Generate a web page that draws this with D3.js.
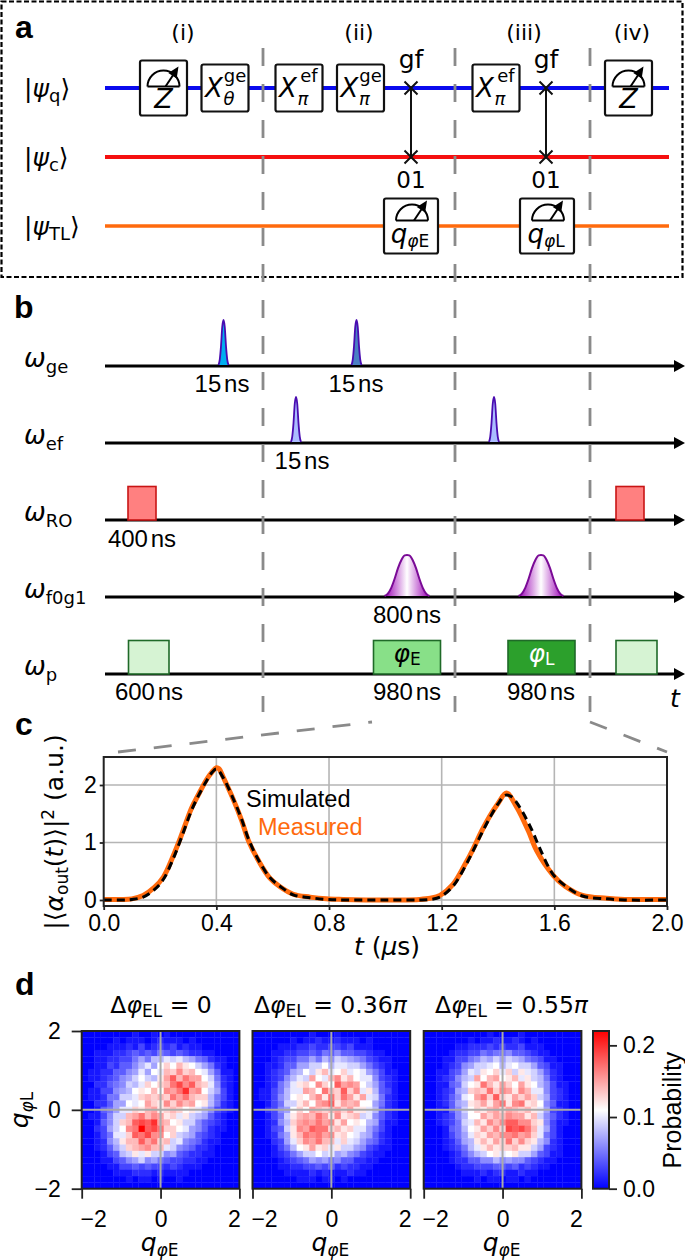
<!DOCTYPE html>
<html><head><meta charset="utf-8">
<script src="https://cdn.jsdelivr.net/npm/d3@7"></script>
<style>html,body{margin:0;padding:0;background:#fff}svg{display:block}</style>
</head><body><div id="c"></div>
<script>
// ---------- DATA ----------
const sectionLabels = ["(i)","(ii)","(iii)","(iv)"];
const sectionPos = [78,254,419,527];
const dividerPos = [158,350,485];
const wirePos = {q:0, c:69, tl:138};
const measureGates = [58.5,523.5];
const xGates = [
 {pos:120,sup:"ge",sub:"θ"},{pos:194,sup:"ef",sub:"π"},{pos:255.5,sup:"ge",sub:"π"},{pos:391,sup:"ef",sub:"π"}];
const swapPos = [306,441];
const homoGates = [{pos:306,sub:"E"},{pos:442,sub:"L"}];
const pulseAxes = ["ge","ef","RO","f0g1","p"];
const gePulses = [{pos:118.5,fill:"#00aef0"},{pos:251.5,fill:"#4a7fc4"}];
const efPulses = [{pos:191,fill:"#aabcff"},{pos:389,fill:"#aabcff"}];
const roPulses = [{start:23,end:51},{start:511,end:539}];
const f0g1Pulses = [302,436];
const probePulses = [
 {start:23.5,end:64,fill:"#d6f3d3"},{start:268.5,end:335.5,fill:"#88e088",label:"E",col:"#000"},
 {start:403,end:470,fill:"#2ca02c",label:"L",col:"#fff"},{start:511,end:552,fill:"#d6f3d3"}];
const narrowShape = [[-1,0],[-.75,.12],[-.5,.42],[-.25,.85],[0,1],[.25,.85],[.5,.42],[.75,.12],[1,0]];
const wideShape = [[-1,0],[-.85,.06],[-.7,.2],[-.55,.42],[-.4,.68],[-.25,.88],[-.1,.99],[0,1],[.1,.99],[.25,.88],[.4,.68],[.55,.42],[.7,.2],[.85,.06],[1,0]];
const durationLabels = [
 {t:"15 ns",pos:117,a:0},{t:"15 ns",pos:251,a:0},{t:"15 ns",pos:197,a:1},{t:"400 ns",pos:37,a:2},
 {t:"800 ns",pos:302,a:3},{t:"600 ns",pos:44,a:4},{t:"980 ns",pos:302,a:4},{t:"980 ns",pos:436,a:4}];

const tSim = [0,.06,.1,.14,.18,.212,.247,.277,.312,.336,.366,.385,.4,.425,.46,.49,.514,.549,.59,.626,.673,.733,.79,.85,1,1.12,1.16,1.194,1.24,1.283,1.312,1.342,1.372,1.4,1.425,1.447,1.475,1.52,1.55,1.596,1.638,1.7,1.785,1.85,2];
const vSim = [0,0,.01,.05,.18,.36,.72,1.1,1.56,1.81,2.08,2.22,2.28,2.12,1.76,1.4,1.06,.7,.39,.24,.09,.04,.01,0,0,0,.01,.05,.24,.58,.86,1.16,1.44,1.67,1.82,1.8,1.63,1.22,.88,.44,.25,.07,.02,0,0];
const tMeas = [0,.06,.1,.14,.18,.212,.247,.277,.312,.336,.366,.385,.4,.41,.425,.46,.49,.514,.549,.59,.626,.673,.733,.79,.85,1,1.12,1.16,1.194,1.24,1.283,1.312,1.342,1.372,1.4,1.43,1.466,1.508,1.537,1.596,1.638,1.7,1.785,1.85,2];
const vMeas = [.01,.01,.02,.08,.22,.4,.77,1.14,1.6,1.83,2.1,2.23,2.3,2.28,2.13,1.75,1.38,1.03,.69,.38,.23,.1,.05,.02,.01,0,.01,.03,.08,.27,.62,.89,1.2,1.47,1.68,1.86,1.62,1.2,.86,.43,.24,.08,.03,.01,.01];
const curveXTicks = [0,.4,.8,1.2,1.6,2];
const curveYTicks = [0,1,2];

const heatTicks = [-2,0,2];
const colorTicks = [0,.1,.2];
const titleValues = [["0",""],["0.36","π"],["0.55","π"]];
// probability in hundredths, rows from q_L = +2 down to -2
const heatA = [
[0,0,0,0,0,0,0,0,1,0,0,1,0,1,0,0,0,0,0,0,0,0,0,0,0],
[0,0,0,0,0,1,0,1,1,1,0,1,2,1,1,1,0,1,0,0,0,0,0,0,0],
[0,0,0,0,1,1,1,2,1,3,1,2,3,2,3,1,2,1,1,0,0,0,0,0,0],
[0,0,1,1,1,2,2,3,4,3,4,3,5,4,3,4,3,2,2,1,1,0,0,0,0],
[0,0,1,1,2,2,3,3,5,7,5,8,8,10,9,10,8,7,5,4,2,1,1,0,0],
[0,0,1,1,3,2,4,4,6,8,10,7,11,13,11,14,12,11,9,7,5,2,1,0,0],
[0,1,1,2,2,4,4,6,7,10,7,11,10,14,13,16,13,14,11,10,7,4,1,1,0],
[0,1,1,2,3,4,6,7,9,11,9,8,12,15,18,14,17,15,15,11,9,5,2,1,0],
[0,0,2,2,4,5,6,9,8,10,13,11,13,14,17,19,16,18,14,13,10,6,2,1,0],
[0,1,1,3,3,6,7,8,11,12,11,14,11,16,15,17,20,15,16,11,9,7,3,1,0],
[0,1,1,2,5,5,9,9,10,13,14,13,14,13,17,15,17,14,13,13,8,5,3,1,0],
[0,0,2,2,4,7,7,11,10,11,15,13,12,16,13,16,14,15,11,12,8,5,2,1,0],
[0,0,1,4,5,7,10,10,13,12,14,15,12,13,14,13,11,12,10,8,6,3,2,1,0],
[0,1,1,3,6,9,9,14,15,17,14,16,15,12,13,10,12,9,8,7,4,2,1,0,0],
[0,0,1,4,6,9,13,14,18,19,18,20,15,14,11,12,9,9,6,4,3,2,1,0,0],
[0,0,2,3,7,9,11,16,17,22,18,19,17,13,13,11,10,7,6,4,2,1,1,0,0],
[0,0,1,3,5,10,10,13,18,17,19,16,16,11,13,9,8,7,4,3,2,1,0,0,0],
[0,0,1,2,6,8,12,14,14,18,15,17,13,14,9,10,6,5,4,2,1,1,0,0,0],
[0,0,1,2,4,7,9,13,14,15,16,14,14,10,9,6,5,4,2,2,1,0,0,0,0],
[0,0,0,1,3,4,8,9,12,10,12,9,9,6,7,4,3,2,2,1,1,0,0,0,0],
[0,0,0,1,1,3,4,6,7,9,6,7,5,4,3,3,2,2,1,1,0,0,0,0,0],
[0,0,0,0,1,1,3,3,4,3,4,3,3,2,3,2,1,1,1,0,0,0,0,0,0],
[0,0,0,0,0,1,1,1,2,2,2,1,2,1,1,1,1,0,0,0,0,0,0,0,0],
[0,0,0,0,0,0,0,1,0,1,1,0,1,0,0,1,0,0,0,0,0,0,0,0,0],
[0,0,0,0,0,0,0,0,0,0,0,0,0,0,0,0,0,0,0,0,0,0,0,0,0]];
const heatB = [
[0,0,0,0,0,0,0,0,0,1,0,0,0,1,0,0,0,0,0,0,0,0,0,0,0],
[0,0,0,0,0,0,1,0,1,1,2,1,1,2,1,1,1,0,1,0,0,0,0,0,0],
[0,0,0,0,1,1,1,2,2,3,2,2,3,3,2,3,1,1,1,0,0,0,0,0,0],
[0,0,0,1,1,2,2,3,3,4,3,5,4,6,4,4,3,3,2,1,1,0,0,0,0],
[0,0,0,1,2,3,3,5,5,7,5,8,6,9,8,7,6,5,3,2,1,1,0,0,0],
[0,0,1,1,2,4,4,7,7,9,9,11,8,10,10,9,9,7,5,3,2,1,0,0,0],
[0,0,1,2,3,4,7,8,11,9,12,14,10,11,13,10,11,10,7,5,3,1,1,0,0],
[0,0,1,2,3,6,8,10,9,15,11,10,14,16,12,14,11,10,10,6,3,2,1,0,0],
[0,0,1,2,5,7,10,12,13,11,16,13,11,18,15,16,15,11,9,7,4,2,1,0,0],
[0,1,1,3,5,8,10,10,15,14,11,17,14,13,18,13,16,10,12,8,4,3,1,0,0],
[0,1,1,3,6,8,11,12,11,14,16,12,17,13,17,15,12,15,10,9,5,2,1,0,0],
[0,0,1,3,5,9,9,12,14,11,15,16,18,12,15,14,15,11,11,7,5,2,1,0,0],
[0,0,2,3,6,7,11,13,11,15,14,13,14,15,13,15,12,12,10,8,4,2,1,0,0],
[0,0,1,3,5,9,12,14,15,14,17,15,12,16,12,13,14,9,10,6,4,2,1,0,0],
[0,0,1,2,6,8,13,15,16,15,17,15,16,12,15,11,12,11,8,7,3,1,1,0,0],
[0,0,1,3,4,9,12,16,15,18,17,17,13,14,12,13,10,10,7,5,3,1,0,0,0],
[0,0,1,2,5,7,12,14,17,16,17,15,16,12,13,11,10,8,7,4,2,1,0,0,0],
[0,0,0,2,3,7,10,13,16,15,17,14,14,10,13,10,9,7,5,4,2,1,0,0,0],
[0,0,0,1,3,5,8,11,12,15,12,13,10,12,9,9,7,6,3,2,1,1,0,0,0],
[0,0,0,1,2,3,5,7,9,9,11,9,10,7,8,6,5,3,2,1,1,0,0,0,0],
[0,0,0,0,1,2,3,4,5,7,6,7,5,6,4,4,2,2,1,1,0,0,0,0,0],
[0,0,0,0,1,1,2,2,3,3,4,3,4,2,3,2,2,1,1,0,0,0,0,0,0],
[0,0,0,0,0,1,1,1,1,2,1,2,1,1,1,2,1,1,0,0,0,0,0,0,0],
[0,0,0,0,0,0,0,1,1,1,0,1,1,0,1,0,0,0,0,0,0,0,0,0,0],
[0,0,0,0,0,0,0,0,0,0,0,0,0,0,0,0,0,0,0,0,0,0,0,0,0]];
const heatC = [
[0,0,0,0,0,0,0,0,0,0,1,0,0,0,0,1,0,0,0,0,0,0,0,0,0],
[0,0,0,0,0,0,0,1,0,1,1,2,1,1,2,1,0,1,0,0,0,0,0,0,0],
[0,0,0,0,0,1,1,2,2,2,3,2,3,2,2,3,1,1,1,0,0,0,0,0,0],
[0,0,0,0,1,2,2,3,3,5,4,5,5,6,4,4,3,2,1,1,0,0,0,0,0],
[0,0,0,1,1,3,3,5,6,8,7,9,7,9,8,7,5,4,3,1,1,0,0,0,0],
[0,0,0,1,2,3,6,7,9,9,10,11,8,10,11,9,9,7,4,3,1,1,0,0,0],
[0,0,1,1,3,4,7,10,9,12,11,13,10,13,9,12,10,9,7,4,2,1,0,0,0],
[0,0,1,2,3,6,8,9,15,11,14,15,11,12,14,10,12,9,8,5,2,1,0,0,0],
[0,0,1,1,4,5,9,11,12,17,14,12,15,13,11,15,12,11,8,6,3,1,1,0,0],
[0,0,1,2,3,7,8,13,14,13,17,13,16,15,12,16,14,10,10,6,3,2,1,0,0],
[0,0,1,2,4,6,10,11,15,17,13,18,13,12,15,13,15,13,9,7,3,2,1,0,0],
[0,0,1,2,4,7,8,12,13,15,12,15,17,12,16,17,12,13,11,6,4,1,1,0,0],
[0,0,1,1,4,6,9,11,13,12,14,15,13,15,14,13,14,12,10,7,3,2,1,0,0],
[0,0,1,2,3,6,8,11,11,15,13,15,14,16,15,15,12,14,9,6,4,2,1,0,0],
[0,0,1,2,3,5,9,10,14,12,16,14,16,18,18,16,16,13,12,6,3,1,1,0,0],
[0,0,0,1,4,5,8,11,12,15,13,16,13,19,18,19,17,14,10,7,3,1,0,0,0],
[0,0,0,1,3,5,7,10,13,12,15,14,16,16,17,15,16,13,10,5,3,1,0,0,0],
[0,0,0,1,2,4,7,8,12,14,12,15,13,17,13,16,13,12,8,6,2,1,0,0,0],
[0,0,0,1,2,3,5,8,10,12,14,12,13,13,14,12,12,9,7,3,2,1,0,0,0],
[0,0,0,0,1,2,4,6,8,9,11,12,10,11,12,9,9,7,4,3,1,1,0,0,0],
[0,0,0,0,1,2,2,4,4,6,6,8,6,7,6,6,4,3,2,1,1,0,0,0,0],
[0,0,0,0,0,1,2,2,3,3,3,4,4,3,4,2,3,2,1,1,0,0,0,0,0],
[0,0,0,0,0,0,1,1,1,2,1,2,2,1,1,2,1,1,0,0,0,0,0,0,0],
[0,0,0,0,0,0,0,0,1,0,1,1,0,1,1,0,1,0,0,0,0,0,0,0,0],
[0,0,0,0,0,0,0,0,0,0,0,0,0,0,0,0,0,0,0,0,0,0,0,0,0]];

// ---------- HELPERS ----------
const W=685,H=1260;
const MATH="'DejaVu Sans',sans-serif", SANS="'Liberation Sans',Arial,sans-serif";
const svg=d3.select("#c").append("svg").attr("width",W).attr("height",H).attr("viewBox",`0 0 ${W} ${H}`);
const defs=svg.append("defs");
function mtext(g,x,y,parts,{anchor="start",size=22,family=MATH,fill="#000",rotate=null}={}){
  const t=g.append("text").attr("x",x).attr("y",y).attr("text-anchor",anchor)
    .attr("font-family",family).attr("font-size",size).attr("fill",fill);
  if(rotate!==null) t.attr("transform",`rotate(${rotate} ${x} ${y})`);
  let cur=0;
  parts.forEach(p=>{
    const [txt,o={}]=Array.isArray(p)?p:[p];
    const d=o.d||0;
    t.append("tspan").text(txt).attr("font-size",o.s||size)
      .attr("font-style",o.i?"italic":"normal").attr("dy",d-cur);
    cur=d;
  });
  return t;
}
function label(g,x,y,txt,{size=22,anchor="middle",fill="#000",weight="normal",family=SANS}={}){
  return g.append("text").attr("x",x).attr("y",y).attr("text-anchor",anchor).attr("font-family",family)
    .attr("font-size",size).attr("font-weight",weight).attr("fill",fill).text(txt);
}
[["a",15,38],["b",14,318],["c",15,735],["d",15,995]].forEach(([t,x,y])=>label(svg,x,y,t,{size:32,anchor:"start",weight:"bold"}));

// ---------- PANEL A ----------
const seqX=d3.scaleLinear().domain([0,564]).range([105,669]);
const wireY=d3.scaleLinear().domain([0,138]).range([88,226]);
const A=svg.append("g");
A.append("rect").attr("x",1.5).attr("y",1.5).attr("width",681).attr("height",275.5).attr("fill","none")
 .attr("stroke","#000").attr("stroke-width",2.2).attr("stroke-dasharray","5 2.5");
const GREY="#8a8a8a";
const dividers=svg.append("g");
sectionLabels.forEach((t,i)=>label(A,seqX(sectionPos[i]),40,t,{size:22,family:MATH}));
[["q","#0a0aee",wirePos.q],["c","#f50f0f",wirePos.c],["tl","#ff6a0d",wirePos.tl]].forEach(([k,c,v])=>{
  A.append("line").attr("x1",seqX(0)).attr("x2",seqX(564)).attr("y1",wireY(v)).attr("y2",wireY(v))
   .attr("stroke",c).attr("stroke-width",k==="tl"?3.5:4);
});
const ketY=[97,166,235];
const ketParts=[
 [["|"],["ψ",{i:1}],["q",{s:18,d:5}],["⟩"]],
 [["|"],["ψ",{i:1}],["c",{s:18,d:5}],["⟩"]],
 [["|"],["ψ",{i:1}],["TL",{s:18,d:5}],["⟩"]]];
ketParts.forEach((p,i)=>mtext(A,24,ketY[i],p,{size:25}));
function box(g,cx,cy,w,h){
  g.append("rect").attr("x",cx-w/2).attr("y",cy-h/2).attr("width",w).attr("height",h).attr("rx",2)
   .attr("fill","#fff").attr("stroke","#111").attr("stroke-width",2.2);
}
function gauge(g,cx,by,r){
  const arc=d3.arc()({innerRadius:r,outerRadius:r,startAngle:-Math.PI/2,endAngle:Math.PI/2});
  g.append("path").attr("d",arc).attr("transform",`translate(${cx},${by})`).attr("fill","none").attr("stroke","#000").attr("stroke-width",2);
  g.append("line").attr("x1",cx-r).attr("x2",cx+r).attr("y1",by).attr("y2",by).attr("stroke","#000").attr("stroke-width",2);
  const x1=cx+2,y1=by,x2=cx+r-1,y2=by-r-4;
  g.append("line").attr("x1",x1).attr("y1",y1).attr("x2",x2-3).attr("y2",y2+5).attr("stroke","#000").attr("stroke-width",2);
  const ang=Math.atan2(y2-y1,x2-x1), L=11, W2=5;
  const bx=x2-L*Math.cos(ang), by2=y2-L*Math.sin(ang);
  g.append("path").attr("d",d3.line()([[x2,y2],[bx-W2*Math.sin(ang),by2+W2*Math.cos(ang)],[bx+W2*Math.sin(ang),by2-W2*Math.cos(ang)]])+"Z").attr("fill","#000");
}
measureGates.forEach(p=>{
  const cx=seqX(p),cy=wireY(0);
  box(A,cx,cy,47,55); gauge(A,cx,cy-1.5,16);
  mtext(A,cx,cy+20,[["Z",{i:1}]],{anchor:"middle",size:27});
});
xGates.forEach(d=>{
  const cx=seqX(d.pos),cy=wireY(0);
  box(A,cx,cy,47,47);
  mtext(A,cx-20,cy+9,[["X",{i:1}]],{size:26});
  mtext(A,cx+10,cy-6,[[d.sup]],{anchor:"middle",size:18});
  mtext(A,cx+4,cy+17,[[d.sub,{i:1}]],{anchor:"middle",size:18});
});
swapPos.forEach(p=>{
  const cx=seqX(p),y1=wireY(wirePos.q),y2=wireY(wirePos.c);
  A.append("line").attr("x1",cx).attr("x2",cx).attr("y1",y1).attr("y2",y2).attr("stroke","#111").attr("stroke-width",2);
  [y1,y2].forEach(y=>{
    A.append("path").attr("d",`M${cx-6.5},${y-6.5}L${cx+6.5},${y+6.5}M${cx-6.5},${y+6.5}L${cx+6.5},${y-6.5}`).attr("stroke","#111").attr("stroke-width",2).attr("fill","none");
  });
  mtext(A,cx,68,[["gf"]],{anchor:"middle",size:25});
  mtext(A,cx,188,[["01"]],{anchor:"middle",size:23});
});
homoGates.forEach(d=>{
  const cx=seqX(d.pos),cy=wireY(wirePos.tl);
  box(A,cx,cy,54,55); gauge(A,cx+1,cy-5.5,16);
  mtext(A,cx-1,cy+17,[["q",{i:1}],["φ",{i:1,s:17,d:4}],[d.sub,{s:17,d:4}]],{anchor:"middle",size:26});
});

// ---------- PANEL B ----------
const axisY=d3.scalePoint().domain(pulseAxes).range([366,674]);
const B=svg.append("g");
pulseAxes.forEach(k=>{
  const y=axisY(k);
  B.append("line").attr("x1",seqX(0)).attr("x2",676).attr("y1",y).attr("y2",y).attr("stroke","#000").attr("stroke-width",3);
  B.append("path").attr("d",d3.line()([[674,y-6],[685,y],[674,y+6]])+"Z").attr("fill","#000");
  mtext(B,24,y+1,[["ω",{i:1}],[k,{s:18,d:6}]],{size:26});
});
function pulse(cx,base,halfW,hgt,shape,fill,stroke,sw){
  const line=d3.line().x(d=>cx+d[0]*halfW).y(d=>base-d[1]*hgt).curve(d3.curveMonotoneX);
  B.append("path").attr("d",line(shape)).attr("fill",fill).attr("stroke",stroke).attr("stroke-width",sw);
}
gePulses.forEach(d=>pulse(seqX(d.pos),axisY("ge")-1,5,45,narrowShape,d.fill,"#4a0cb0",1.8));
efPulses.forEach(d=>pulse(seqX(d.pos),axisY("ef")-1,5,45,narrowShape,d.fill,"#4a0cb0",1.8));
const grad=defs.append("linearGradient").attr("id","purple");
[[0,"#9a00b4"],[.5,"#ffffff"],[1,"#9a00b4"]].forEach(([o,c])=>grad.append("stop").attr("offset",o).attr("stop-color",c));
f0g1Pulses.forEach(p=>pulse(seqX(p),axisY("f0g1")-1,22.5,41,wideShape,"url(#purple)","#7a0a96",2));
roPulses.forEach(d=>B.append("rect").attr("x",seqX(d.start)).attr("width",seqX(d.end)-seqX(d.start)).attr("y",486.5).attr("height",axisY("RO")-486.5)
   .attr("fill","#ff8080").attr("stroke","#c81414").attr("stroke-width",1.6));
probePulses.forEach(d=>{
  B.append("rect").attr("x",seqX(d.start)).attr("width",seqX(d.end)-seqX(d.start)).attr("y",640.5).attr("height",axisY("p")-640.5)
   .attr("fill",d.fill).attr("stroke","#1f6a28").attr("stroke-width",1.6);
  if(d.label) mtext(B,seqX((d.start+d.end)/2),662,[["φ",{i:1}],[d.label,{s:17,d:3}]],{anchor:"middle",size:25,fill:d.col});
});
const durOffset=[26,26,27,26,26];
durationLabels.forEach(d=>{
  const s=d.t.split(" ");
  const t=label(B,seqX(d.pos),axisY(pulseAxes[d.a])+durOffset[d.a],"",{size:24});
  t.append("tspan").text(s[0]);
  t.append("tspan").text(" ").attr("font-size",10);
  t.append("tspan").text(s[1]);
});
mtext(B,670,707,[["t",{i:1}]],{size:25});

dividerPos.forEach(p=>{
  dividers.append("line").attr("x1",seqX(p)).attr("x2",seqX(p)).attr("y1",48).attr("y2",712)
   .attr("stroke",GREY).attr("stroke-width",2.8).attr("stroke-dasharray","18 18");
});
dividers.raise();

// ---------- PANEL C ----------
const C=svg.append("g");
const cx=d3.scaleLinear().domain([0,2]).range([103.7,667]);
const cy=d3.scaleLinear().domain([0,2]).range([900,785]);
const cTop=757,cBot=906;
const cGrid=C.append("g").attr("stroke","#b5b5b5").attr("stroke-width",1.6);
curveXTicks.slice(1,-1).forEach(t=>cGrid.append("line").attr("x1",cx(t)).attr("x2",cx(t)).attr("y1",cTop).attr("y2",cBot));
curveYTicks.forEach(t=>cGrid.append("line").attr("x1",cx(0)).attr("x2",cx(2)).attr("y1",cy(t)).attr("y2",cy(t)));
const cLine=(ts,vs)=>d3.line().x((d,i)=>cx(ts[i])).y(d=>cy(d)).curve(d3.curveCatmullRom.alpha(.5))(vs);
C.append("path").attr("d",cLine(tMeas,vMeas)).attr("fill","none").attr("stroke","#ff6a0d").attr("stroke-width",5);
C.append("path").attr("d",cLine(tSim,vSim)).attr("fill","none").attr("stroke","#000").attr("stroke-width",3).attr("stroke-dasharray","8 5");
C.append("rect").attr("x",cx(0)).attr("y",cTop).attr("width",cx(2)-cx(0)).attr("height",cBot-cTop).attr("fill","none").attr("stroke","#222").attr("stroke-width",2);
const styleAxis=(g,size)=>{g.select(".domain").remove();g.selectAll(".tick line").attr("stroke","#222").attr("stroke-width",1.8);
  g.selectAll(".tick text").attr("font-family",SANS).attr("font-size",size).attr("fill","#000");};
C.append("g").attr("transform",`translate(0,${cBot})`).call(d3.axisBottom(cx).tickValues(curveXTicks).tickFormat(d3.format(".1f")).tickSize(4).tickPadding(5)).call(styleAxis,23);
C.append("g").attr("transform",`translate(${cx(0)},0)`).call(d3.axisLeft(cy).tickValues(curveYTicks).tickFormat(d3.format("d")).tickSize(4).tickPadding(3)).call(styleAxis,23);
label(C,246,807,"Simulated",{size:23.5,anchor:"start"});
label(C,258,835,"Measured",{size:23.5,anchor:"start",fill:"#ff6a0d"});
mtext(C,387,955,[["t",{i:1}],[" ("],["μ",{i:1}],["s)"]],{anchor:"middle",size:25});
mtext(C,63,832,[["|⟨"],["α",{i:1}],["out",{s:17,d:5}],["("],["t",{i:1}],[")⟩|"],["2",{s:17,d:-9}],[" (a.u.)"]],{anchor:"middle",size:25,rotate:-90});
[[118,752,372,722],[590,722,667,752]].forEach(([a,b,c,d])=>svg.append("line").attr("x1",a).attr("y1",b).attr("x2",c).attr("y2",d)
  .attr("stroke",GREY).attr("stroke-width",2.8).attr("stroke-dasharray","18 18"));

// ---------- PANEL D ----------
const D=svg.append("g");
const panelLeft=[81.7,252.5,423.7], pSize=157.7, pTop=1031;
const titleShift=[.5,-1,9];
const color=d3.scaleLinear().domain([0,.11,.22]).range(["#0000ff","#ffffff","#ff0000"]);
const tickShift={"-2":11.5,"0":0,"2":-5.5};
[heatA,heatB,heatC].forEach((grid,pi)=>{
  const x0=panelLeft[pi];
  const x=d3.scaleLinear().domain([-2,2]).range([x0,x0+pSize]);
  const y=d3.scaleLinear().domain([-2,2]).range([pTop+pSize,pTop]);
  const n=grid.length, step=4/n;
  const g=D.append("g");
  grid.forEach((row,r)=>{
    g.selectAll(null).data(row).join("rect")
     .attr("x",(d,c)=>x(-2+c*step)).attr("y",y(2-r*step))
     .attr("width",x(step)-x(0)+.3).attr("height",y(0)-y(step)+.3)
     .attr("fill",d=>color(d/100));
  });
  g.append("line").attr("x1",x(-2)).attr("x2",x(2)).attr("y1",y(0)).attr("y2",y(0)).attr("stroke","#aaa").attr("stroke-width",2);
  g.append("line").attr("x1",x(0)).attr("x2",x(0)).attr("y1",y(-2)).attr("y2",y(2)).attr("stroke","#aaa").attr("stroke-width",2);
  g.append("rect").attr("x",x0).attr("y",pTop).attr("width",pSize).attr("height",pSize).attr("fill","none").attr("stroke","#222").attr("stroke-width",2);
  g.append("g").attr("transform",`translate(0,${pTop+pSize})`)
    .call(d3.axisBottom(x).tickValues(heatTicks).tickFormat(d=>d<0?"−"+(-d):d).tickSize(10).tickPadding(12)).call(styleAxis,23)
    .selectAll(".tick text").attr("dx",d=>tickShift[d]);
  if(pi===0) g.append("g").attr("transform",`translate(${x0},0)`)
    .call(d3.axisLeft(y).tickValues(heatTicks).tickFormat(d=>d<0?"−"+(-d):d).tickSize(10).tickPadding(11)).call(styleAxis,23);
  mtext(g,x(0)-1,1251,[["q",{i:1}],["φ",{i:1,s:17,d:5}],["E",{s:17,d:5}]],{anchor:"middle",size:25});
  mtext(g,x(0)+titleShift[pi],1013,[["Δ"],["φ",{i:1}],["EL",{s:17,d:4}],[" = "+titleValues[pi][0]],[titleValues[pi][1],{i:1}]],{anchor:"middle",size:23.5});
});
mtext(D,28,1110,[["q",{i:1}],["φ",{i:1,s:17,d:5}],["L",{s:17,d:5}]],{anchor:"middle",size:25,rotate:-90});
const gradC=defs.append("linearGradient").attr("id","bwr").attr("x1",0).attr("y1",1).attr("x2",0).attr("y2",0);
[[0,0],[.5,.11],[1,.22]].forEach(([o,v])=>gradC.append("stop").attr("offset",o).attr("stop-color",color(v)));
D.append("rect").attr("x",593).attr("y",pTop).attr("width",16).attr("height",pSize).attr("fill","url(#bwr)").attr("stroke","#222").attr("stroke-width",2);
const cby=d3.scaleLinear().domain([0,.22]).range([pTop+pSize,pTop]);
D.append("g").attr("transform","translate(609,0)").call(d3.axisRight(cby).tickValues(colorTicks).tickFormat(d3.format(".1f")).tickSize(8).tickPadding(6)).call(styleAxis,23);
label(D,681,1110,"Probability",{size:25}).attr("transform","rotate(-90 681 1110)");
</script></body></html>
